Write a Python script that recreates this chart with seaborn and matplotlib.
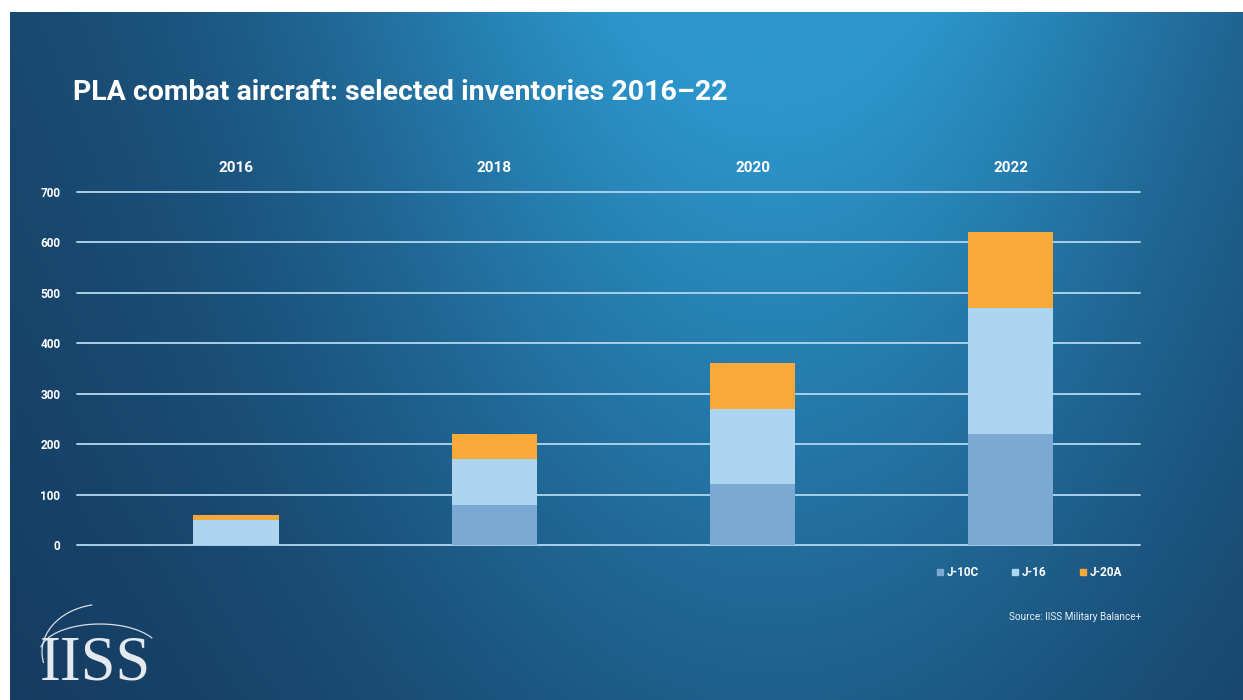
import numpy as np
import pandas as pd
import matplotlib
matplotlib.use("Agg")
import matplotlib.pyplot as plt
from matplotlib.patches import Patch, Arc
import seaborn as sns

# data
years = ["2016", "2018", "2020", "2022"]
j10c = [0, 80, 120, 220]
j16 = [50, 90, 150, 250]
j20a = [10, 50, 90, 150]
y_ticks = [0, 100, 200, 300, 400, 500, 600, 700]

c_j10c = "#7ba9d4"
c_j16 = "#add5f0"
c_j20a = "#f8a93a"
grid_col = "#a9cfe8"

df = pd.DataFrame({"year": years, "J-10C": j10c, "J-16": j16, "J-20A": j20a})
df["lvl1"] = df["J-10C"]
df["lvl2"] = df["lvl1"] + df["J-16"]
df["lvl3"] = df["lvl2"] + df["J-20A"]

sns.set_theme(style="white")
plt.rcParams["font.family"] = ["Roboto", "DejaVu Sans"]

W, H = 1243, 700
fig = plt.figure(figsize=(W / 100, H / 100), dpi=100, facecolor="white")

# background gradient
bg = fig.add_axes([10 / W, 0, 1 - 10 / W, 1 - 12 / H])
xs = np.linspace(0, 1, 400)
ys = np.linspace(0, 1, 240)
X, Y = np.meshgrid(xs, ys)
hx = np.exp(-((X - 0.62) / 0.38) ** 2)
mix = hx * (1 - 0.6 * Y) + 0.10 * (1 - Y)
dark = np.array([21, 58, 95]) / 255
light = np.array([44, 150, 204]) / 255
img = dark + (light - dark) * np.clip(mix, 0, 1)[..., None]
bg.imshow(img, aspect="auto", extent=[0, 1, 0, 1])
bg.axis("off")

ax = fig.add_axes([77 / W, 1 - 545 / H, (1140 - 77) / W, (545 - 192) / H])
ax.patch.set_alpha(0)

for col, c, z in [("lvl3", c_j20a, 3), ("lvl2", c_j16, 4), ("lvl1", c_j10c, 5)]:
    sns.barplot(data=df, x="year", y=col, color=c, width=0.33, saturation=1,
                edgecolor="none", linewidth=0, ax=ax, zorder=z)

ax.set_ylim(0, 700)
ax.set_xlim(-0.616, 3.5)
ax.set_yticks(y_ticks)
ax.set_yticklabels([str(v) for v in y_ticks], color="white",
                   fontsize=8.5, fontweight="bold")
ax.yaxis.grid(True, color=grid_col, linewidth=1.4, zorder=0)
for gl in ax.get_ygridlines():
    gl.set_clip_on(False)
ax.set_axisbelow(True)
ax.tick_params(axis="y", length=0, pad=12)
ax.xaxis.tick_top()
ax.set_xticks(range(len(years)))
ax.set_xticklabels(years, color="white", fontsize=11, fontweight="bold")
ax.tick_params(axis="x", length=0, pad=12)
ax.set_xlabel("")
ax.set_ylabel("")
for s in ax.spines.values():
    s.set_visible(False)

handles = [Patch(color=c_j10c, label="J-10C"),
           Patch(color=c_j16, label="J-16"),
           Patch(color=c_j20a, label="J-20A")]
leg = ax.legend(handles=handles, ncol=3, frameon=False, loc="upper right",
                bbox_to_anchor=(0.993, -0.03), handlelength=0.5,
                handleheight=0.5, handletextpad=0.3, columnspacing=2.85,
                prop={"size": 8.5, "weight": "bold"})
for t in leg.get_texts():
    t.set_color("white")

fig.text(73 / W, 1 - 92 / H, "PLA combat aircraft: selected inventories 2016\u201322",
         color="white", fontsize=20.5, fontweight="bold", va="center", ha="left")
fig.text(1141 / W, 1 - 617 / H, "Source: IISS Military Balance+",
         color="#e6eef5", fontsize=7.2, va="center", ha="right")

# IISS logo
fig.text(40 / W, 1 - 680 / H, "IISS", color="#e4e9ef", fontsize=45,
         family="Liberation Serif", va="baseline", ha="left")
fig.add_artist(Arc((100 / W, 1 - 652 / H), 120 / W, 56 / H, theta1=25, theta2=172,
                   transform=fig.transFigure, color="#d8dee6", lw=0.9))
fig.add_artist(Arc((104 / W, 1 - 652 / H), 124 / W, 96 / H, theta1=98, theta2=198,
                   transform=fig.transFigure, color="#d8dee6", lw=0.9))

fig.savefig("out.png", dpi=100, facecolor="white")
